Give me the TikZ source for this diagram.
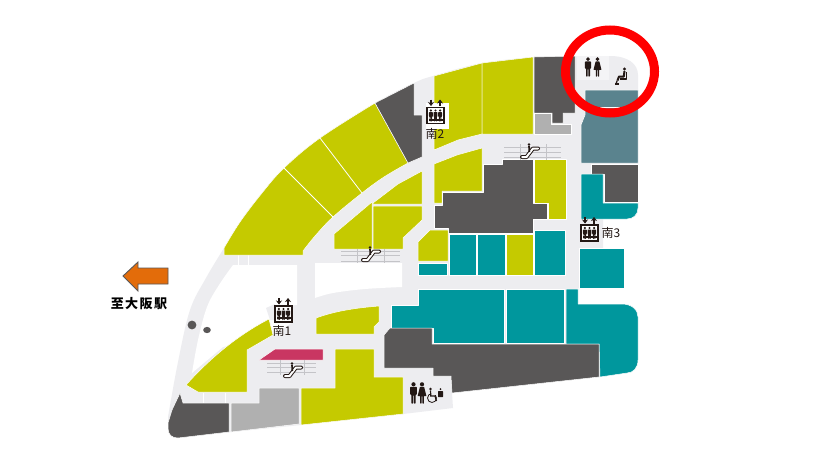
\documentclass[tikz,border=0pt]{standalone}
\usepackage{fontspec}
\usetikzlibrary{arrows.meta}
\newfontfamily\cjk{Noto Sans CJK JP}
\definecolor{floorgrey}{HTML}{EDEDF0}
\definecolor{shopyellow}{HTML}{C5CA00}
\definecolor{shopteal}{HTML}{00979D}
\definecolor{shopdark}{HTML}{595757}
\definecolor{shopgrey}{HTML}{B0B0B0}
\definecolor{shopslate}{HTML}{5A838E}
\definecolor{shoppink}{HTML}{C93662}
\definecolor{arroworange}{HTML}{E36C0A}
\definecolor{escline}{HTML}{C4C4C8}
\definecolor{icondark}{HTML}{231815}
\tikzset{
  shop/.style={draw=white,line width=0.5pt,line join=round},
  yellowshop/.style={shop,fill=shopyellow},
  tealshop/.style={shop,fill=shopteal},
  darkshop/.style={shop,fill=shopdark},
  greyshop/.style={shop,fill=shopgrey},
  esc/.style={draw=escline,line width=0.7pt},
  liftlabel/.style={font=\cjk\fontsize{12}{12}\selectfont,text=icondark,inner sep=0pt},
}
\newcommand{\manicon}[3]{%
  \begin{scope}[shift={(#1,#2)},scale=#3]
  \fill[icondark] (0,-8.3) circle (2);
  \fill[icondark,rounded corners=0.6pt] (-3.2,-5.8) -- (3.2,-5.8) -- (3.2,1.5) -- (2.1,1.5) -- (2.1,10) -- (0.3,10) -- (0.3,2) -- (-0.3,2) -- (-0.3,10) -- (-2.1,10) -- (-2.1,1.5) -- (-3.2,1.5) -- cycle;
  \end{scope}}
\newcommand{\womanicon}[3]{%
  \begin{scope}[shift={(#1,#2)},scale=#3]
  \fill[icondark] (0,-8.3) circle (2);
  \fill[icondark,rounded corners=0.4pt] (-2,-5.8) -- (2,-5.8) -- (4.2,3) -- (1.8,3) -- (1.8,10) -- (0.4,10) -- (0.4,3) -- (-0.4,3) -- (-0.4,10) -- (-1.8,10) -- (-1.8,3) -- (-4.2,3) -- cycle;
  \end{scope}}
\newcommand{\lifticon}[2]{%
  \begin{scope}[shift={(#1,#2)}]
  \draw[icondark,fill=white,line width=1.2pt] (-8.5,-8) rectangle (8.5,8);
  \fill[icondark] (-7,3.2) rectangle (7,5.2);
  \manicon{-4.6}{0}{0.6}
  \manicon{0}{0}{0.6}
  \manicon{4.6}{0}{0.6}
  \draw[icondark,line width=1.3pt,-{Stealth[length=4pt,width=6pt]}] (-4.5,-16) -- (-4.5,-9.5);
  \draw[icondark,line width=1.3pt,-{Stealth[length=4pt,width=6pt]}] (4.5,-9.5) -- (4.5,-16);
  \end{scope}}
\newcommand{\escicon}[2]{%
  \begin{scope}[shift={(#1,#2)}]
  \draw[icondark,line width=4pt,line cap=round,line join=round] (-8,5) -- (-3.5,5) -- (3,-3.5) -- (8,-3.5);
  \draw[white,line width=2pt,line cap=round,line join=round] (-8,5) -- (-3.5,5) -- (3,-3.5) -- (8,-3.5);
  \fill[icondark] (-1,-7.5) circle (1.3);
  \draw[icondark,line width=1.7pt] (-1,-6) -- (-0.6,0);
  \end{scope}}
\begin{document}
\begin{tikzpicture}[x=1pt,y=-1pt]
\useasboundingbox (0,0) rectangle (832,472);
\fill[white] (0,0) rectangle (832,472);
% floor
\fill[floorgrey] plot[smooth,tension=0.6] coordinates {(168,417) (178,362) (190,310) (206,278) (224,248) (240,222) (262,193) (284,168) (320,138) (375,103) (414,83) (433,76) (482,63) (534,57)} -- (610,56) .. controls (628,56) and (638,64) .. (638,75) -- (638,210) .. controls (638,215) and (633,219) .. (627,219) -- (603,219) -- (603,248) -- (624,248) -- (624,288) -- (578,288) -- (578,304) -- (622,304) .. controls (632,304) and (638,310) .. (638,317) -- (638,360) .. controls (638,368) and (633,373) .. (627,373) -- (599,377) -- (452,393) -- (453,408) -- (403,414) -- (301,425) -- (231,432) -- (178,438) -- (168,431) -- cycle;
% courts
\fill[white] plot[smooth,tension=0.6] coordinates {(192,373) (198,340) (207,307) (219,285) (233,265)} -- (297,265) -- (297,305) -- (293,305) -- (293,322) -- (273,335) -- (223,347) -- cycle;
\fill[floorgrey] (266,308) -- (275,304) -- (275,320) -- (270,320) -- cycle;
\fill[white] plot[smooth,tension=0.6] coordinates {(315,298) (333,293) (365,289) (402,287)} -- (402,263) -- (315,263) -- cycle;
\draw[white,line width=0.5pt] (238,255) -- (238,265);
\draw[white,line width=0.5pt] (248,255) -- (248,265);
\draw[white,line width=0.5pt] (203,393) -- (203,403);
\draw[white,line width=0.5pt] (225,393) -- (225,403);
% left arc
\path[yellowshop] plot[smooth,tension=0.6] coordinates {(224,248) (240,222) (262,193) (284,168) (320,138) (375,103)} -- plot[smooth,tension=0.6] coordinates {(408,163) (384,177) (362,193) (333,217) (315,236) (303,251)} -- (303,255) -- (224,255) -- cycle;
\draw[white,line width=0.8pt] (284,168) -- (333,217);
\draw[white,line width=0.8pt] (320,138) -- (362,193);
\path[darkshop] (375,103) -- (414,83) -- (414,115) -- (422,115) -- (422,157) -- (408,163) -- cycle;
\path[yellowshop] (372,202) -- (334,234) -- (334,249) -- (372,249) -- cycle;
\path[yellowshop] (373,203) -- (398,184) -- (422,171) -- (422,204) -- (373,204) -- cycle;
\path[yellowshop] (373,206) -- (422,206) -- (422,220) -- (403,238) -- (403,249) -- (373,249) -- cycle;
% top row
\path[yellowshop] (434,76) -- (482,63) -- (482,134) -- (458,140) -- (434,150) -- cycle;
\path[yellowshop] (482,63) -- (533,57) -- (533,134) -- (482,134) -- cycle;
\fill[white] (426,103) rectangle (449,129);
\path[darkshop] (534,57) -- (575,56) -- (575,113) -- (563,113) -- (563,123) -- (552,123) -- (552,113) -- (534,113) -- cycle;
\path[greyshop] (534,113) -- (551,113) -- (551,124) -- (571,124) -- (571,134) -- (534,134) -- cycle;
\fill[white!40!floorgrey] (577,56) rectangle (609,80);
\path[shop,fill=shopslate] (585,90) -- (638,90) -- (638,163) -- (581,163) -- (581,125) -- (585,115) -- cycle;
\draw[white,line width=0.8pt] (585,107) -- (638,107);
\path[darkshop] (591,164) -- (638,164) -- (638,202) -- (604,202) -- (604,174) -- (591,174) -- cycle;
\path[tealshop] (581,174) -- (603,174) -- (603,203) -- (638,203) -- (638,208) .. controls (638,215) and (633,219) .. (627,219) -- (581,219) -- cycle;
% middle
\path[yellowshop] (434,164) -- (457,155) -- (482,148) -- (482,191) -- (442,191) -- (442,203) -- (434,203) -- cycle;
\path[darkshop] (434,205) -- (442,205) -- (442,192) -- (483,192) -- (483,164) -- (502,164) -- (502,159) -- (533,159) -- (533,203) -- (547,203) -- (547,219) -- (533,219) -- (533,233) -- (448,233) -- (448,228) -- (434,228) -- cycle;
\path[yellowshop] (534,159) -- (566,159) -- (566,219) -- (548,219) -- (548,203) -- (534,203) -- cycle;
\path[yellowshop] (418,242) -- (430,230) -- (448,230) -- (448,261) -- (418,261) -- cycle;
\path[tealshop] (418,263) rectangle (447,275);
\path[tealshop] (449,234) rectangle (476,275);
\path[tealshop] (477,234) rectangle (505,275);
\path[yellowshop] (506,234) rectangle (533,275);
\path[tealshop] (534,230) rectangle (565,275);
\path[tealshop] (579,248) rectangle (624,288);
% lower block
\path[tealshop] (391,305) -- (418,305) -- (418,289) -- (504,289) -- (504,343) -- (433,343) -- (433,328) -- (391,328) -- cycle;
\path[tealshop] (506,289) rectangle (564,343);
\path[tealshop] (566,289) -- (578,289) -- (578,304) -- (622,304) .. controls (632,304) and (638,310) .. (638,317) -- (638,360) .. controls (638,368) and (633,373) .. (627,373) -- (600,377) -- (599,344) -- (566,344) -- cycle;
\path[darkshop] (390,328) -- (432,328) -- (432,344) -- (599,344) -- (599,377) -- (452,393) -- (451,376) -- (433,376) -- (433,368) -- (384,368) -- (384,335) -- cycle;
\path[yellowshop] (335,349) -- (374,349) -- (374,377) -- (403,377) -- (403,414) -- (301,425) -- (301,388) -- (335,388) -- cycle;
\path[yellowshop] (316,318) .. controls (335,311) and (355,308) .. (379,306) -- (379,322) -- (374,327) -- (374,334) -- (316,334) -- cycle;
\path[greyshop] (259,388) -- (299,388) -- (299,424) -- (231,432) -- (231,403) -- (259,403) -- cycle;
\path[darkshop] (180,393) -- (183,403) -- (229,403) -- (229,432) -- (178,438) .. controls (172,438) and (168,435) .. (168,428) -- (168,423) -- (172,410) -- cycle;
\path[yellowshop] (186,385) .. controls (212,356) and (240,334) .. (269,319) -- (273,335) -- (247,350) -- (247,392) -- (198,392) -- cycle;
\path[shop,fill=shoppink] (259,360) -- (275,349) -- (323,349) -- (323,360) -- cycle;
\fill[shopdark] (192,325) circle (4.4);
\fill[shopdark] (207,330) ellipse (3.8 and 3.1);
% escalators
\draw[esc] (504,147) -- (561,147);
\draw[esc] (504,152) -- (561,152);
\draw[esc] (504,157) -- (561,157);
\draw[esc] (520,144) -- (520,160);
\draw[esc] (546,144) -- (546,160);
\draw[esc] (341,251) -- (400,251);
\draw[esc] (341,255) -- (400,255);
\draw[esc] (341,261) -- (400,261);
\draw[esc] (357,249) -- (357,263);
\draw[esc] (384,249) -- (384,263);
\draw[esc] (267,363) -- (316,363);
\draw[esc] (267,367) -- (316,367);
\draw[esc] (267,372) -- (316,372);
\draw[esc] (280,360) -- (280,375);
\draw[esc] (304,360) -- (304,375);
\escicon{530}{152}
\escicon{371}{255}
\escicon{293}{371}
% lifts
\lifticon{435.5}{115.5}
\lifticon{283.5}{314}
\lifticon{589.5}{233}
\node[liftlabel] (south2) at (435,133.5) {南2};
\node[liftlabel] (south1) at (282,331) {南1};
\node[liftlabel] (south3) at (611,233) {南3};
% toilets
\manicon{588}{67}{0.95}
\womanicon{597.5}{67}{0.95}
\manicon{413.5}{393}{1.05}
\womanicon{422}{393}{1.05}
\begin{scope}[shift={(432,396)}]
\draw[icondark,line width=0.8pt] (0,2) circle (4.5);
\fill[floorgrey] (-1,-7) rectangle (6,-1);
\fill[icondark] (-1.5,-7) circle (1.3);
\draw[icondark,line width=1.2pt] (-1.5,-5.5) -- (-1.2,0) -- (3,0) -- (4.5,5);
\end{scope}
\fill[icondark] (440.5,389) circle (1);
\fill[icondark,rounded corners=0.5pt] (438,391) rectangle (443,397);
\begin{scope}[shift={(621,76)}]
\fill[icondark] (3.5,-7) circle (1.6);
\draw[icondark,line width=2pt,line join=round] (3.5,-5) -- (2.8,0.5) -- (-2,0.5) -- (-3.5,4.5);
\draw[icondark,line width=1.1pt,line join=round] (5.5,-4) -- (5.5,3) -- (-1,3);
\draw[icondark,line width=1.3pt] (-6,8) -- (-2,8);
\draw[icondark,line width=1.3pt] (-3.8,4.5) -- (-5,8);
\end{scope}
% ring and arrow
\draw[red,line width=9pt] (610,71.5) ellipse (44.5 and 41.5);
\draw[fill=arroworange,draw=shopdark,line width=0.9pt,line join=miter] (123,276) -- (138,262) -- (138,268) -- (168,268) -- (168,284) -- (138,284) -- (138,291) -- cycle;
\node[font=\cjk\bfseries\fontsize{13}{13}\selectfont,inner sep=0pt] (station) at (139,304) {至\hspace{1.5pt}大\hspace{1.5pt}阪\hspace{1.5pt}駅};
\end{tikzpicture}
\end{document}
